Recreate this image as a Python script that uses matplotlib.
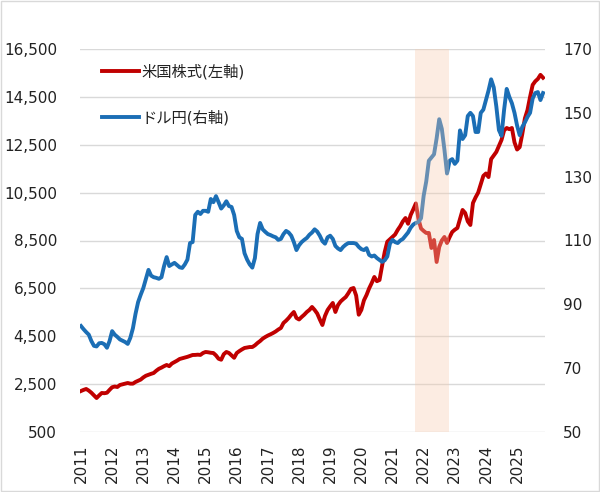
import numpy as np
import matplotlib
matplotlib.use("Agg")
import matplotlib.pyplot as plt
from matplotlib.patches import Rectangle

plt.rcParams['font.family'] = ['DejaVu Sans', 'Noto Sans CJK JP']

# Monthly series, Jan 2011 onward
start_year = 2011
us_stocks = [
    2213, 2260, 2297, 2230, 2140, 2030, 1920, 2030, 2130, 2120,
    2140, 2260, 2370, 2400, 2380, 2464, 2490, 2520, 2547, 2520,
    2520, 2590, 2640, 2690, 2780, 2850, 2890, 2930, 2965, 3060,
    3140, 3190, 3250, 3300, 3250, 3360, 3420, 3480, 3550, 3580,
    3610, 3640, 3680, 3717, 3720, 3730, 3720, 3800, 3843, 3830,
    3810, 3800, 3700, 3560, 3520, 3750, 3843, 3800, 3700, 3600,
    3800, 3880, 3950, 4010, 4030, 4050, 4050, 4120, 4218, 4300,
    4400, 4469, 4530, 4580, 4636, 4700, 4780, 4845, 5054, 5150,
    5263, 5400, 5514, 5263, 5200, 5305, 5400, 5514, 5600, 5723,
    5600, 5450, 5200, 4970, 5350, 5597, 5750, 5890, 5514, 5800,
    5950, 6050, 6140, 6300, 6480, 6516, 6200, 5400, 5600, 6000,
    6224, 6500, 6725, 6976, 6800, 6850, 7450, 8020, 8450, 8550,
    8647, 8750, 8940, 9100, 9300, 9440, 9200, 9566, 9800, 10050,
    9400, 9000, 8900, 8814, 8814, 8187, 8522, 7603, 8229, 8500,
    8647, 8396, 8640, 8856, 8950, 9023, 9400, 9775, 9650, 9300,
    9148, 10067, 10300, 10500, 10850, 11200, 11300, 11150, 11900, 12050,
    12200, 12450, 12700, 13100, 13200, 13150, 13200, 12600, 12300, 12400,
    12950, 13600, 13950, 14500, 15000, 15150, 15250, 15420, 15300,
]
usd_jpy = [
    83.2, 82.2, 81.3, 80.5, 78.5, 77.0, 76.8, 77.8, 77.9, 77.5,
    76.4, 78.5, 81.6, 80.5, 79.8, 79.0, 78.6, 78.2, 77.6, 79.5,
    82.5, 87.0, 90.7, 93.0, 95.1, 98.0, 100.8, 99.0, 98.5, 98.3,
    98.0, 98.5, 102.0, 104.8, 102.0, 102.5, 103.0, 102.3, 101.6, 101.4,
    102.5, 104.0, 109.2, 109.5, 118.0, 119.0, 118.3, 119.3, 119.3, 119.0,
    123.0, 122.0, 123.9, 122.0, 120.0, 121.0, 122.3, 120.8, 120.5, 118.0,
    113.0, 111.0, 110.5, 106.0, 104.0, 102.5, 101.5, 104.5, 112.0, 115.5,
    113.5, 112.7, 112.0, 111.7, 111.3, 111.0, 110.2, 110.5, 112.0, 113.0,
    112.5, 111.5, 109.5, 107.0, 108.5, 109.5, 110.2, 110.8, 111.8, 112.5,
    113.5, 112.8, 111.5, 109.8, 109.0, 111.0, 111.5, 110.5, 108.3, 107.5,
    107.0, 108.0, 108.7, 109.2, 109.2, 109.2, 109.0, 108.0, 107.3, 107.0,
    107.6, 105.5, 105.0, 105.3, 104.5, 103.9, 103.3, 103.8, 105.0, 109.0,
    110.2, 109.5, 109.2, 110.0, 110.5, 111.5, 112.5, 114.0, 115.0, 115.5,
    115.8, 117.0, 124.0, 128.5, 135.0, 136.0, 137.0, 142.0, 148.0, 145.0,
    138.5, 131.0, 135.0, 135.5, 134.0, 135.0, 144.5, 141.8, 143.0, 149.0,
    150.0, 149.0, 144.0, 144.0, 150.0, 151.0, 154.0, 157.0, 160.5, 158.0,
    152.0, 144.6, 142.8, 151.0, 157.5, 155.0, 153.0, 150.0, 146.0, 143.0,
    145.6, 147.0, 148.7, 150.0, 154.5, 156.2, 156.5, 154.0, 156.2,
]
years = list(range(2011, 2026))
left_ticks = [500, 2500, 4500, 6500, 8500, 10500, 12500, 14500, 16500]
right_ticks = [50, 70, 90, 110, 130, 150, 170]
band = (2021.72, 2022.81)
label_stocks = '米国株式(左軸)'
label_fx = 'ドル円(右軸)'

x_stocks = start_year + np.arange(len(us_stocks)) / 12.0
x_fx = start_year + np.arange(len(usd_jpy)) / 12.0

fig = plt.figure(figsize=(6.0, 4.92), dpi=100)
ax = fig.add_axes([80/600, 1-432/492, 465/600, 383/492])
ax2 = ax.twinx()

red = '#C00000'
blue = '#1B6EB5'

l1, = ax.plot(x_stocks, us_stocks, color=red, lw=2.8, solid_joinstyle='round', zorder=3)
l2, = ax2.plot(x_fx, usd_jpy, color=blue, lw=2.8, solid_joinstyle='round', zorder=3)
ax2.axvspan(band[0], band[1], color='#F8CBAD', alpha=0.35, lw=0, zorder=5)

ax.set_xlim(2010.968, 2025.896)
ax.set_ylim(500, 16500)
ax2.set_ylim(50, 170)

ax.set_yticks(left_ticks)
ax.set_yticklabels([f'{v:,}' for v in left_ticks])
ax2.set_yticks(right_ticks)
ax2.set_yticklabels([str(v) for v in right_ticks])
ax.set_xticks(years)
ax.set_xticklabels([str(y) for y in years], rotation=90)

ax.grid(axis='y', color='#D9D9D9', lw=1.0)
ax.set_axisbelow(True)
for a in (ax, ax2):
    for s in a.spines.values():
        s.set_visible(False)
ax.tick_params(axis='y', length=0, pad=16.5, labelsize=11, colors='#222222')
ax.tick_params(axis='x', length=0, pad=9, labelsize=11, colors='#222222')
ax2.tick_params(axis='y', length=0, pad=13, labelsize=11, colors='#222222')

leg = ax2.legend([l1, l2], [label_stocks, label_fx], loc='upper left',
                 bbox_to_anchor=(102/600, 1-64/492), bbox_transform=fig.transFigure,
                 frameon=False, borderpad=0, borderaxespad=0, handlelength=2.4,
                 handletextpad=0.2, labelspacing=2.0, fontsize=11)
for t in leg.get_texts():
    t.set_color('#222222')

fig.patches.append(Rectangle((0.001, 0.002), 0.997, 0.996, transform=fig.transFigure,
                             fill=False, edgecolor='#D9D9D9', lw=1.0))

fig.savefig('out.png', dpi=100)
